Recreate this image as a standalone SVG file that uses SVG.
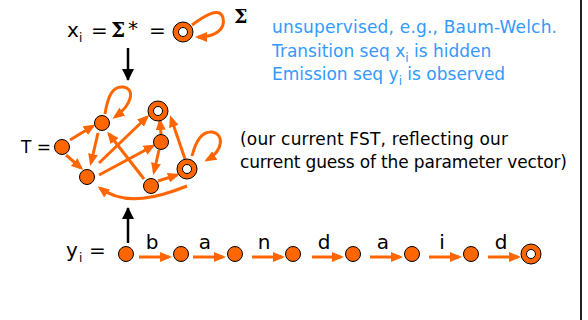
<svg xmlns="http://www.w3.org/2000/svg" width="588" height="320" viewBox="0 0 588 320">
<defs>
<marker id="oa" markerUnits="userSpaceOnUse" markerWidth="12" markerHeight="10" refX="9" refY="5" orient="auto">
<path d="M0,0 L12,5 L0,10 z" fill="#FF6600"/>
</marker>
<marker id="ba" markerUnits="userSpaceOnUse" markerWidth="12" markerHeight="12" refX="11" refY="6" orient="auto">
<path d="M0,0 L12,6 L0,12 z" fill="#000"/>
</marker>
</defs>
<style>
.t{font-family:"DejaVu Sans","Liberation Sans",sans-serif;font-size:17px;fill:#000}
.L{font-size:20px}
.b{font-family:"DejaVu Sans","Liberation Sans",sans-serif;font-size:17px;fill:#3399FF}
.s{font-size:12px}
.sig{font-family:"DejaVu Serif","Liberation Serif",serif;font-weight:bold;fill:#000}
.n{fill:#FF6600;stroke:#000;stroke-width:1}
.in{fill:#fff;stroke:#000;stroke-width:1}
.e{fill:none;stroke:#FF6600;stroke-width:3;marker-end:url(#oa)}
.k{fill:none;stroke:#000;stroke-width:2.5;marker-end:url(#ba)}
</style>
<rect width="588" height="320" fill="#fff"/>
<line x1="581" y1="0" x2="581" y2="320" stroke="#222" stroke-width="2"/>

<!-- top labels -->
<g id="top-label">
<text class="t L" x="67" y="37">x</text>
<text class="t s" x="79" y="42">i</text>
<text class="t L" x="91" y="37">=</text>
<text class="sig" x="111" y="37" font-size="20">Σ</text>
<text class="t L" x="128" y="35">*</text>
<text class="t L" x="149" y="37">=</text>
<text class="sig" x="234" y="23" font-size="19">Σ</text>
</g>
<g id="note">
<text class="b" x="272" y="33" textLength="285">unsupervised, e.g., Baum-Welch.</text>
<text class="b" x="272" y="57">Transition seq x<tspan class="s" dy="5">i</tspan><tspan dy="-5"> is hidden</tspan></text>
<text class="b" x="272" y="80">Emission seq y<tspan class="s" dy="5">i</tspan><tspan dy="-5"> is observed</tspan></text>
</g>
<g id="fst-note">
<text class="t" x="240" y="145" textLength="268">(our current FST, reflecting our</text>
<text class="t" x="240" y="168" textLength="327">current guess of the parameter vector)</text>
</g>
<g id="T-label"><text class="t" x="21" y="153" font-size="18">T =</text></g>
<g id="y-label">
<text class="t L" x="66" y="257">y</text>
<text class="t s" x="79" y="262">i</text>
<text class="t L" x="89" y="257">=</text>
</g>

<!-- connectors -->
<g id="connectors">
<path class="e" d="M192,25 C204,16 220,6 223,18 C226,30 214,37 198,37"/>
<line class="k" x1="128" y1="48" x2="128" y2="80"/>
<line class="k" x1="128" y1="243" x2="128" y2="208"/>
<line class="e" x1="70" y1="140" x2="93" y2="126"/>
<line class="e" x1="66" y1="155" x2="81" y2="168"/>
<path class="e" d="M105,114 C108,95 113,86 123,87 C135,88 133,104 115,117"/>
<line class="e" x1="98" y1="133" x2="91" y2="163"/>
<line class="e" x1="99" y1="163" x2="147" y2="117"/>
<line class="e" x1="99" y1="175" x2="153" y2="146"/>
<line class="e" x1="144" y1="179" x2="109" y2="134"/>
<line class="e" x1="161" y1="134" x2="160" y2="121"/>
<line class="e" x1="159" y1="150" x2="154" y2="172"/>
<line class="e" x1="185" y1="159" x2="171" y2="118"/>
<line class="e" x1="158" y1="181" x2="177" y2="175"/>
<path class="e" d="M192,156 C196,140 202,131 212,132 C224,134 224,150 207,160"/>
<path class="e" d="M187,186 C160,197 125,207 100,188"/>
<line class="e" x1="139" y1="257" x2="169" y2="257"/>
<line class="e" x1="193" y1="257" x2="223" y2="257"/>
<line class="e" x1="252" y1="257" x2="282" y2="257"/>
<line class="e" x1="312" y1="257" x2="341" y2="257"/>
<line class="e" x1="370" y1="257" x2="400" y2="257"/>
<line class="e" x1="429" y1="257" x2="459" y2="257"/>
<line class="e" x1="488" y1="257" x2="518" y2="257"/>
<text class="t L" x="152" y="249" text-anchor="middle">b</text>
<text class="t L" x="205" y="249" text-anchor="middle">a</text>
<text class="t L" x="264" y="249" text-anchor="middle">n</text>
<text class="t L" x="324" y="249" text-anchor="middle">d</text>
<text class="t L" x="383" y="249" text-anchor="middle">a</text>
<text class="t L" x="442" y="249" text-anchor="middle">i</text>
<text class="t L" x="501" y="249" text-anchor="middle">d</text>
</g>

<!-- nodes -->
<g id="sigma-star"><circle class="n" cx="183" cy="32" r="10"/><circle class="in" cx="183" cy="32" r="4.5"/></g>
<g id="fA"><circle class="n" cx="62" cy="147" r="7.5"/></g>
<g id="fB"><circle class="n" cx="102" cy="123" r="7.5"/></g>
<g id="fC"><circle class="n" cx="87" cy="177" r="7.5"/></g>
<g id="fD"><circle class="n" cx="158" cy="111" r="10"/><circle class="in" cx="158" cy="111" r="4.5"/></g>
<g id="fE"><circle class="n" cx="161" cy="142" r="7.5"/></g>
<g id="fF"><circle class="n" cx="187" cy="169" r="10"/><circle class="in" cx="187" cy="169" r="4.5"/></g>
<g id="fG"><circle class="n" cx="151" cy="186" r="7.5"/></g>
<g id="y0"><circle class="n" cx="126" cy="254" r="7.5"/></g>
<g id="y1"><circle class="n" cx="181" cy="254" r="7.5"/></g>
<g id="y2"><circle class="n" cx="235" cy="254" r="7.5"/></g>
<g id="y3"><circle class="n" cx="293" cy="254" r="7.5"/></g>
<g id="y4"><circle class="n" cx="353" cy="254" r="7.5"/></g>
<g id="y5"><circle class="n" cx="412" cy="254" r="7.5"/></g>
<g id="y6"><circle class="n" cx="471" cy="254" r="7.5"/></g>
<g id="y7"><circle class="n" cx="531" cy="254" r="10"/><circle class="in" cx="531" cy="254" r="4.5"/></g>
</svg>
